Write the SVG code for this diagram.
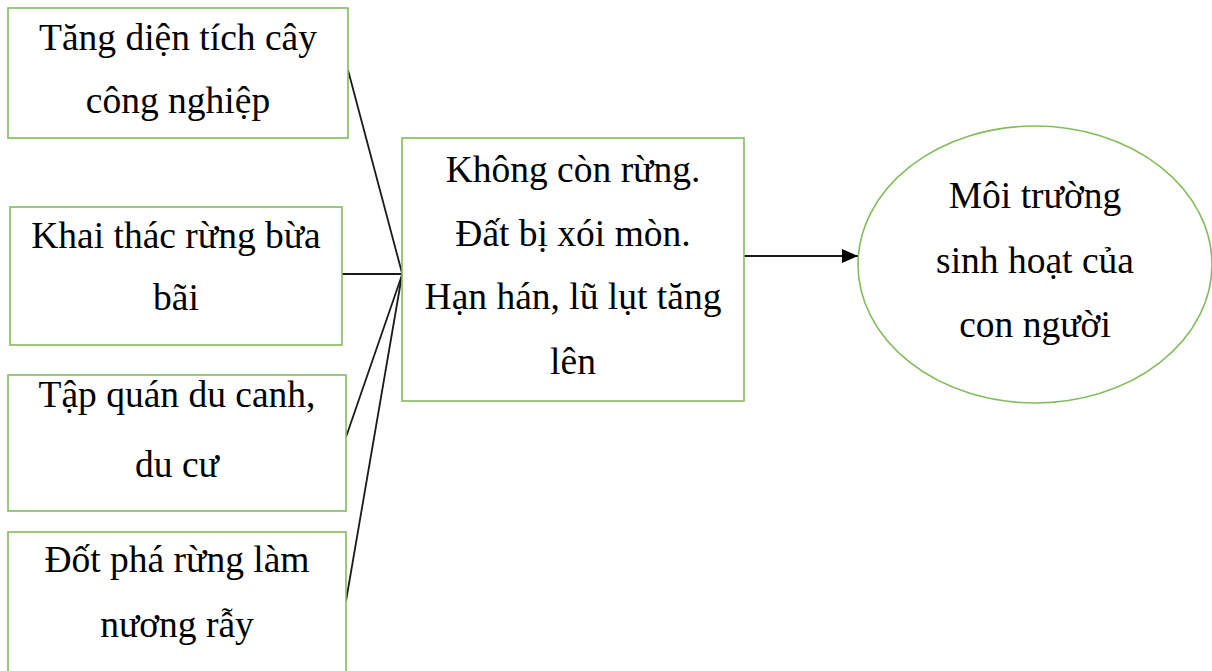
<svg xmlns="http://www.w3.org/2000/svg" width="1212" height="671" viewBox="0 0 1212 671">
  <style>
    .box { fill: #ffffff; stroke: #84bb5c; stroke-width: 1.6; }
    .t { font-family: "Liberation Serif", "Times New Roman", serif; font-size: 37.5px; fill: #000000; text-anchor: middle; }
    .c { stroke: #1a1a1a; stroke-width: 1.8; fill: none; }
  </style>
  <defs>
    <marker id="arr" viewBox="0 0 16 14" refX="16" refY="7" markerWidth="16" markerHeight="14" markerUnits="userSpaceOnUse" orient="auto">
      <path d="M0,0 L16,7 L0,14 z" fill="#000000"/>
    </marker>
  </defs>
  <rect width="1212" height="671" fill="#ffffff"/>

  <g id="connectors">
    <line class="c" x1="348" y1="70" x2="402" y2="273"/>
    <line class="c" x1="340" y1="274" x2="402" y2="274"/>
    <line class="c" x1="346" y1="437" x2="402" y2="275"/>
    <line class="c" x1="346" y1="601" x2="402" y2="275"/>
    <line class="c" x1="744" y1="256" x2="858" y2="256" marker-end="url(#arr)"/>
  </g>

  <g id="n1">
    <rect class="box" x="8" y="8" width="340" height="130"/>
    <text class="t" x="178" y="50">Tăng diện tích cây</text>
    <text class="t" x="178" y="113">công nghiệp</text>
  </g>
  <g id="n2">
    <rect class="box" x="10" y="207" width="332" height="138"/>
    <text class="t" x="176" y="248">Khai thác rừng bừa</text>
    <text class="t" x="176" y="310">bãi</text>
  </g>
  <g id="n3">
    <rect class="box" x="8" y="375" width="338" height="136"/>
    <text class="t" x="177" y="407">Tập quán du canh,</text>
    <text class="t" x="177" y="477">du cư</text>
  </g>
  <g id="n4">
    <rect class="box" x="8" y="532" width="338" height="150"/>
    <text class="t" x="177" y="572">Đốt phá rừng làm</text>
    <text class="t" x="177" y="637">nương rẫy</text>
  </g>
  <g id="center">
    <rect class="box" x="402" y="138" width="342" height="263"/>
    <text class="t" x="573" y="182">Không còn rừng.</text>
    <text class="t" x="573" y="246">Đất bị xói mòn.</text>
    <text class="t" x="573" y="309">Hạn hán, lũ lụt tăng</text>
    <text class="t" x="573" y="374">lên</text>
  </g>
  <g id="env">
    <ellipse class="box" cx="1035" cy="264.5" rx="177" ry="138.5"/>
    <text class="t" x="1035" y="208">Môi trường</text>
    <text class="t" x="1035" y="273">sinh hoạt của</text>
    <text class="t" x="1035" y="337">con người</text>
  </g>
</svg>
